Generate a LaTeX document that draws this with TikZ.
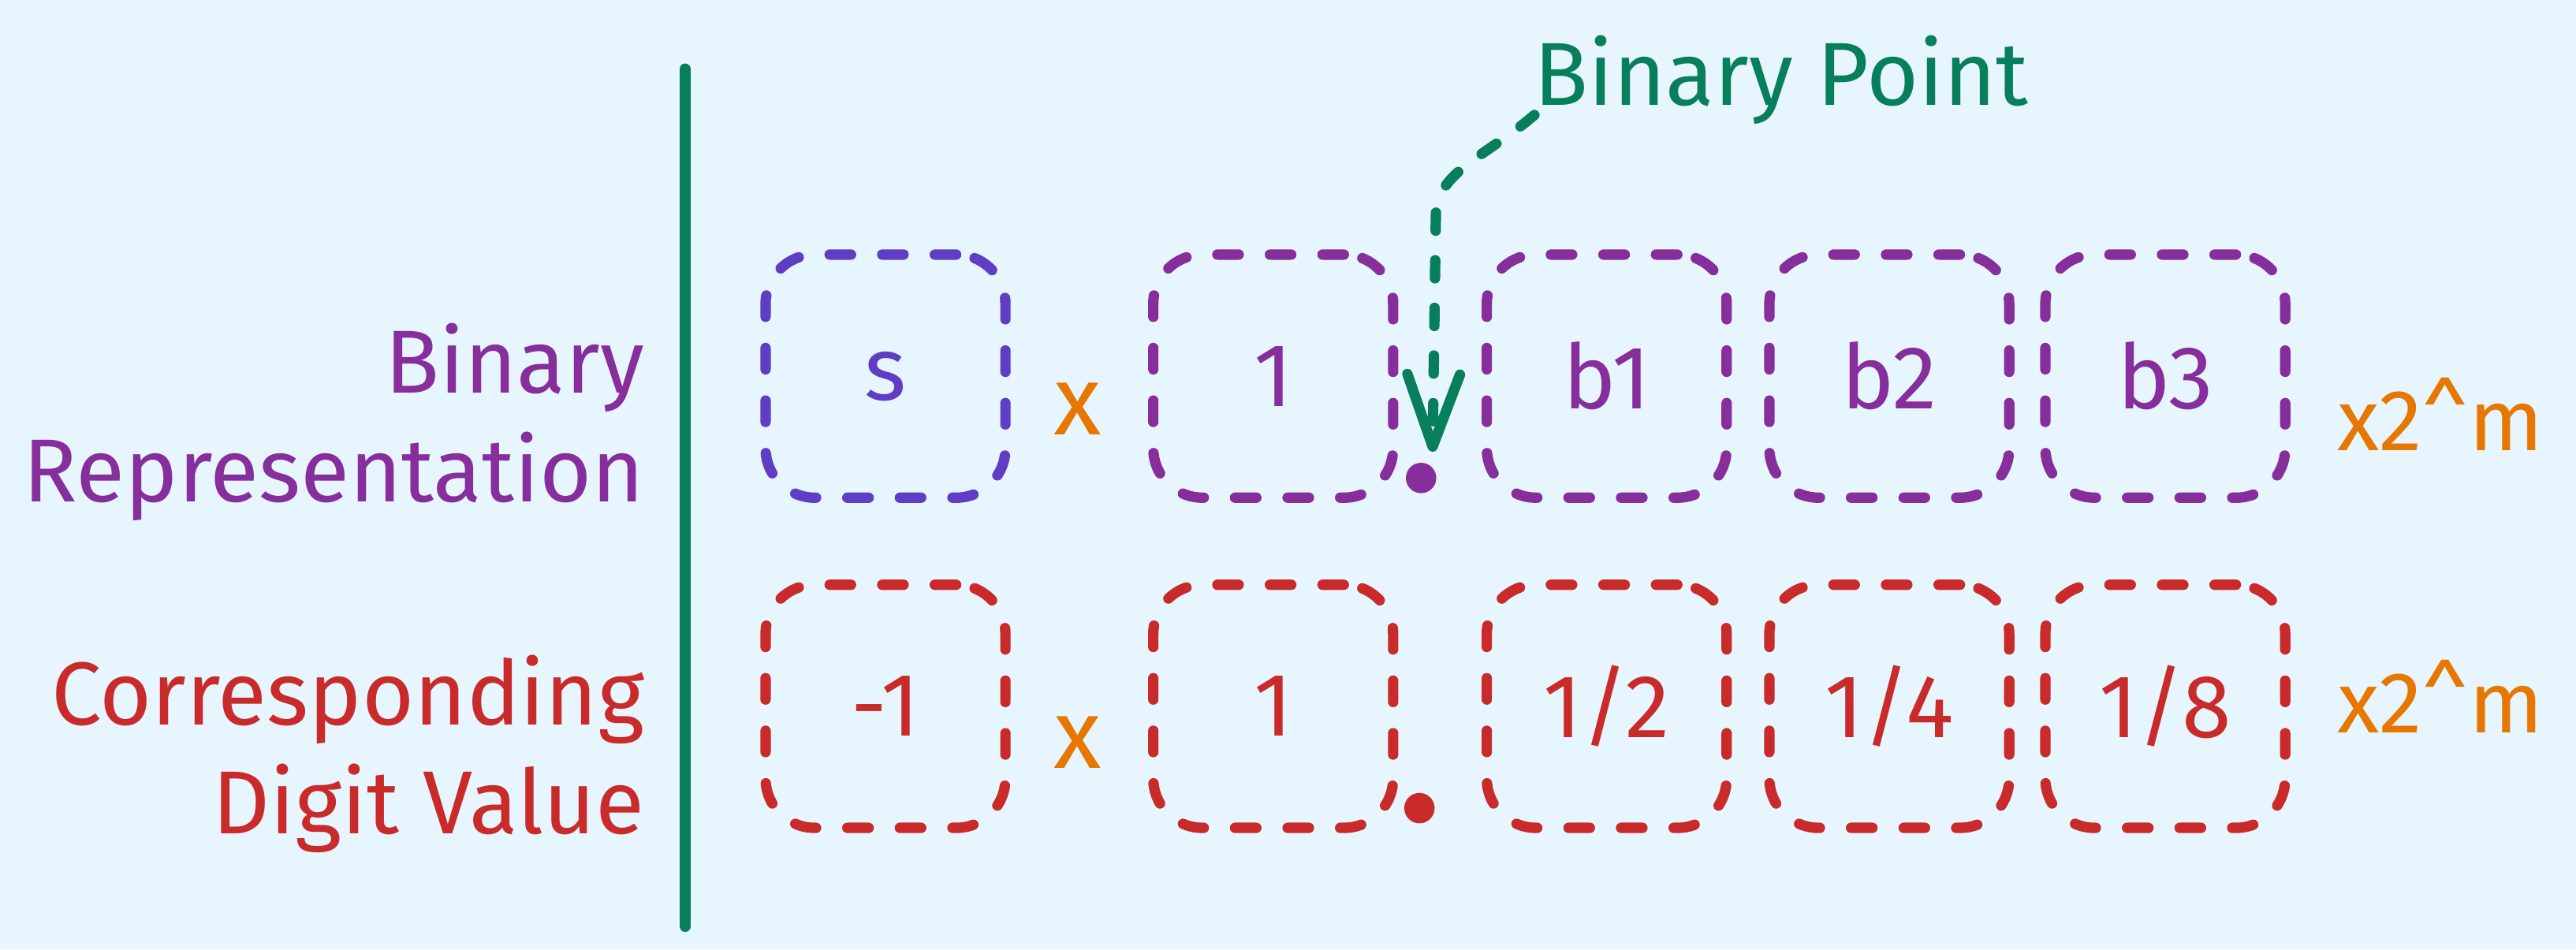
\documentclass[tikz,border=0pt]{standalone}
\usepackage{fontspec}
\setmainfont{Fira Sans}
\usetikzlibrary{arrows.meta,positioning}
\definecolor{PaperBlue}{HTML}{E7F5FF}
\definecolor{SignViolet}{HTML}{5F3DC4}
\definecolor{BitPurple}{HTML}{862E9C}
\definecolor{ValueRed}{HTML}{C92A2A}
\definecolor{TimesOrange}{HTML}{E67700}
\definecolor{PointGreen}{HTML}{087F5B}

\begin{document}
\begin{tikzpicture}[x=0.1mm,y=-0.1mm,
  bitbox/.style={draw,line width=1.8pt,dash pattern=on 1.3mm off 1.9mm,line cap=round,rounded corners=3mm,minimum width=14.6mm,minimum height=14.8mm,inner sep=0pt,outer sep=0pt,font={\fontsize{15.5}{18}\selectfont}},
  sidelabel/.style={align=right,inner sep=0pt,font={\fontsize{15.5}{18.8}\selectfont}},
  times/.style={TimesOrange,inner sep=0pt,font={\fontsize{17}{20}\selectfont}},
  scale label/.style={TimesOrange,inner sep=0pt,font={\fontsize{15}{18}\selectfont}},
  pointdot/.style={circle,fill,inner sep=0pt,minimum size=1.85mm},
  pointarrow/.style={PointGreen,line width=1.8pt,dash pattern=on 1.1mm off 1.8mm,line cap=round,-{Straight Barb[length=4.4mm,width=3.2mm,line cap=round,line join=round]}},
  divider/.style={PointGreen,line width=1.9pt,line cap=round}
]
\fill[PaperBlue] (0,0) rectangle (1568,578);
\useasboundingbox (0,0) rectangle (1568,578);

% left labels and divider
\node[sidelabel,BitPurple,anchor=east] (binrep) at (393,257) {Binary\\Representation};
\node[sidelabel,ValueRed,anchor=east] (digval) at (393,459) {Corresponding\\Digit Value};
\draw[divider] (417,42) -- (417,564);

% binary representation row
\node[bitbox,SignViolet] (sign) at (539,229) {s};
\node[bitbox,BitPurple,right=9mm of sign] (lead) {1};
\node[bitbox,BitPurple,right=5.7mm of lead] (bone) {b1};
\node[bitbox,BitPurple,right=2.6mm of bone] (btwo) {b2};
\node[bitbox,BitPurple,right=2.2mm of btwo] (bthree) {b3};
\node[times] (timesA) at (656,249) {x};
\node[scale label,anchor=west] (scaleA) at (1422,252) {x2\textasciicircum m};
\node[pointdot,BitPurple] (dotA) at (865,291) {};

% digit value row
\node[bitbox,ValueRed,below=5.3mm of sign] (signval) {-1};
\node[bitbox,ValueRed,below=5.3mm of lead] (leadval) {1};
\node[bitbox,ValueRed,below=5.3mm of bone] (halfval) {1/2};
\node[bitbox,ValueRed,below=5.3mm of btwo] (quartval) {1/4};
\node[bitbox,ValueRed,below=5.3mm of bthree] (eighthval) {1/8};
\node[times] (timesB) at (656,452) {x};
\node[scale label,anchor=west] (scaleB) at (1422,424) {x2\textasciicircum m};
\node[pointdot,ValueRed] (dotB) at (864,492) {};

% binary point callout
\node[sidelabel,PointGreen,anchor=base west] (bplabel) at (933,64) {Binary Point};
\draw[pointarrow] ([shift={(1,6)}]bplabel.base west) .. controls (905,95) and (874,105) .. (874,131) -- ([shift={(7,-6)}]dotA.north);
\end{tikzpicture}
\end{document}
